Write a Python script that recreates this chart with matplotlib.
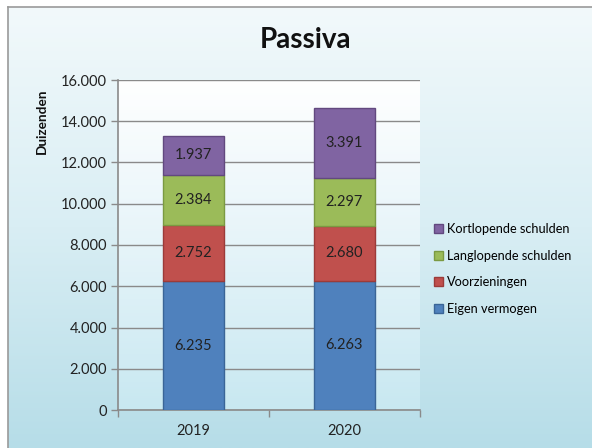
import numpy as np
import matplotlib
matplotlib.use("Agg")
import matplotlib.pyplot as plt
from matplotlib.colors import LinearSegmentedColormap
from matplotlib.lines import Line2D
from matplotlib.patches import Patch

plt.rcParams['font.family'] = ['Lato', 'DejaVu Sans']

years = ["2019", "2020"]
series_names = ["Eigen vermogen", "Voorzieningen", "Langlopende schulden", "Kortlopende schulden"]
eigen_vermogen = [6235, 6263]
voorzieningen = [2752, 2680]
langlopende = [2384, 2297]
kortlopende = [1937, 3391]
series_values = [eigen_vermogen, voorzieningen, langlopende, kortlopende]
colors = ["#4f81bd", "#c0504d", "#9bbb59", "#8064a2"]
edges = ["#3a6597", "#9c3b39", "#7b9a42", "#62497f"]
yticks = [0, 2000, 4000, 6000, 8000, 10000, 12000, 14000, 16000]
ytick_labels = ["0", "2.000", "4.000", "6.000", "8.000", "10.000", "12.000", "14.000", "16.000"]

W, H = 592, 448
fig = plt.figure(figsize=(W / 100, H / 100), dpi=100, facecolor="white")

# chart area background gradient
bg = fig.add_axes([8 / W, 0, 1 - 8 / W, 1 - 7 / H], zorder=-10)
grad = np.linspace(0, 1, 256).reshape(-1, 1)
cm_bg = LinearSegmentedColormap.from_list("bg", ["#f2f9fb", "#d9eef4", "#b6dde8"])
bg.imshow(grad, aspect="auto", cmap=cm_bg, extent=[0, 1, 0, 1], origin="upper")
bg.set_xlim(0, 1)
bg.set_ylim(0, 1)
bg.axis("off")
fig.add_artist(Line2D([8 / W, 1], [1 - 7 / H, 1 - 7 / H], color="#9a9a9a", lw=1.2))
fig.add_artist(Line2D([8 / W, 8 / W], [0, 1 - 7 / H], color="#9a9a9a", lw=1.2))

ax = fig.add_axes([118 / W, 1 - 410 / H, (420 - 118) / W, (410 - 80) / H])
ax.set_xlim(-0.5, 1.5)
ax.set_ylim(0, 16000)
cm_pa = LinearSegmentedColormap.from_list("pa", ["#ffffff", "#e6f4f9", "#c8e8f1"])
ax.imshow(grad, aspect="auto", cmap=cm_pa, extent=[-0.5, 1.5, 0, 16000], origin="upper", zorder=0)
ax.set_xlim(-0.5, 1.5)
ax.set_ylim(0, 16000)

x = np.arange(len(years))
bottom = np.zeros(len(years))
for name, vals, c, ec in zip(series_names, series_values, colors, edges):
    vals = np.array(vals)
    ax.bar(x, vals, 0.4, bottom=bottom, color=c, edgecolor=ec, linewidth=1, zorder=3, label=name)
    for xi, b, v in zip(x, bottom, vals):
        ax.text(xi, b + v / 2, f"{v / 1000:.3f}", ha="center", va="center", fontsize=10.5, color="#222222", zorder=4)
    bottom += vals

ax.set_yticks(yticks)
ax.set_yticklabels(ytick_labels, fontsize=10.5, color="#222222")
ax.yaxis.grid(True, color="#8a8a8a", linewidth=1, zorder=1)
ax.set_axisbelow(True)
ax.set_xticks(x)
ax.set_xticklabels(years, fontsize=10.5, color="#222222")
ax.set_xticks([-0.5, 0.5, 1.5], minor=True)
ax.tick_params(axis="x", which="major", length=0, pad=10)
ax.tick_params(axis="x", which="minor", length=5, color="#8a8a8a", width=1, direction="out")
ax.tick_params(axis="y", length=5, color="#8a8a8a", width=1, direction="out", pad=3)
for s in ["top", "right"]:
    ax.spines[s].set_visible(False)
for s in ["left", "bottom"]:
    ax.spines[s].set_color("#8a8a8a")
    ax.spines[s].set_linewidth(1.2)

fig.text(305 / W, 1 - 40 / H, "Passiva", ha="center", va="center", fontsize=20, fontweight="bold", color="#111111")
fig.text(42 / W, 1 - 121 / H, "Duizenden", ha="center", va="center", rotation=90, fontsize=9.8, fontweight="bold", color="#111111")

handles = [Patch(facecolor=c, edgecolor=ec, linewidth=1) for c, ec in zip(colors, edges)][::-1]
labels = series_names[::-1]
fig.legend(handles, labels, loc="upper left", bbox_to_anchor=(434 / W, 1 - 223 / H), frameon=False,
           fontsize=9.2, handlelength=0.7, handleheight=0.7, handletextpad=0.3, labelspacing=1.15,
           borderpad=0, borderaxespad=0)

fig.savefig("out.png", dpi=100, facecolor=fig.get_facecolor())
